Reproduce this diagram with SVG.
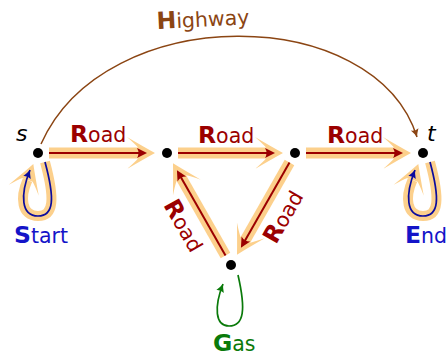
<svg xmlns="http://www.w3.org/2000/svg" width="448" height="357" viewBox="0 0 448 357">
<style>
.ob{fill:#fcd08c}
.oband{fill:none;stroke:#fcd08c;stroke-width:10}
.rl{fill:none;stroke:#9b0000;stroke-width:2}
.rh{fill:#9b0000}
.lbl{font-family:"DejaVu Sans","Liberation Sans",sans-serif;font-size:20.5px}
.ini{font-weight:bold;font-size:23.5px}
.road{fill:#9b0000}
.dot{fill:#000}
.var{font-family:"DejaVu Sans","Liberation Sans",sans-serif;font-size:22px;font-style:italic;fill:#000}
.bl{fill:none;stroke:#0b0b9e;stroke-width:1.7}
.gl{fill:none;stroke:#0a7a0a;stroke-width:1.7}
</style>
<defs>
<path id="oh" d="M-17,-5.5 Q-20,-9 -28,-16 Q-11,-6 0,0 Q-11,6 -28,16 Q-20,9 -17,5.5 Z"/>
<path id="rh" d="M0,0 Q-5,-2.5 -10,-5 Q-7,0 -10,5 Q-5,2.5 0,0 Z"/>
<marker id="mb" markerUnits="userSpaceOnUse" viewBox="-9 -5 10 10" refX="0" refY="0" markerWidth="10" markerHeight="10" orient="auto"><path d="M0,0 Q-4,-1.5 -8,-4 Q-6,0 -8,4 Q-4,1.5 0,0Z" fill="#0b0b9e"/></marker>
<marker id="mg" markerUnits="userSpaceOnUse" viewBox="-9 -5 10 10" refX="0" refY="0" markerWidth="10" markerHeight="10" orient="auto"><path d="M0,0 Q-4,-1.5 -8,-4 Q-6,0 -8,4 Q-4,1.5 0,0Z" fill="#0a7a0a"/></marker>
<marker id="mh" markerUnits="userSpaceOnUse" viewBox="-9 -5 10 10" refX="0" refY="0" markerWidth="10" markerHeight="10" orient="auto"><path d="M0,0 Q-4,-1.5 -8,-4 Q-6,0 -8,4 Q-4,1.5 0,0Z" fill="#8b4513"/></marker>
</defs>

<g id="connectors">
  <path id="highway" d="M41,144 C105,0 375,3 417,137" fill="none" stroke="#8b4513" stroke-width="1.5" marker-end="url(#mh)"/>
  <text class="lbl" fill="#8b4513" transform="translate(157,29) rotate(-3)"><tspan class="ini">H</tspan>ighway</text>

  <g id="road1" transform="translate(49,153)">
    <rect class="ob" x="0" y="-5.5" width="90" height="11"/>
    <use href="#oh" class="ob" x="106"/>
    <line class="rl" x1="0" y1="0" x2="90" y2="0"/>
    <use href="#rh" class="rh" x="98"/>
  </g>
  <g id="road2" transform="translate(178,153)">
    <rect class="ob" x="0" y="-5.5" width="89" height="11"/>
    <use href="#oh" class="ob" x="105"/>
    <line class="rl" x1="0" y1="0" x2="89" y2="0"/>
    <use href="#rh" class="rh" x="97"/>
  </g>
  <g id="road3" transform="translate(306,153)">
    <rect class="ob" x="0" y="-5.5" width="89" height="11"/>
    <use href="#oh" class="ob" x="105"/>
    <line class="rl" x1="0" y1="0" x2="89" y2="0"/>
    <use href="#rh" class="rh" x="97"/>
  </g>
  <g id="road4" transform="translate(225.5,255.4) rotate(-119.7)">
    <rect class="ob" x="0" y="-5.5" width="90" height="11"/>
    <use href="#oh" class="ob" x="106"/>
    <line class="rl" x1="0" y1="0" x2="90" y2="0"/>
    <use href="#rh" class="rh" x="98"/>
  </g>
  <g id="road5" transform="translate(289.5,162.6) rotate(119.7)">
    <rect class="ob" x="0" y="-5.5" width="90" height="11"/>
    <use href="#oh" class="ob" x="106"/>
    <line class="rl" x1="0" y1="0" x2="90" y2="0"/>
    <use href="#rh" class="rh" x="98"/>
  </g>

  <text class="lbl road" x="70" y="142"><tspan class="ini">R</tspan>oad</text>
  <text class="lbl road" x="198" y="143"><tspan class="ini">R</tspan>oad</text>
  <text class="lbl road" x="327" y="143"><tspan class="ini">R</tspan>oad</text>
  <text class="lbl road" transform="translate(163,205) rotate(60.3)"><tspan class="ini">R</tspan>oad</text>
  <text class="lbl road" transform="translate(276,245) rotate(-60.3)"><tspan class="ini">R</tspan>oad</text>

  <g id="loop-start" transform="translate(38,153)">
    <path class="oband" d="M7,9 C17,46 16,63 0,63 C-17,63 -18,44 -10.5,27"/>
    <use href="#oh" class="ob" transform="translate(-4.7,11) rotate(-70)"/>
    <path class="bl" d="M7,9 C17,46 16,63 0,63 C-17,63 -18,42 -8,17" marker-end="url(#mb)"/>
  </g>
  <g id="loop-end" transform="translate(423,153)">
    <path class="oband" d="M7,9 C17,46 16,63 0,63 C-17,63 -18,44 -10.5,27"/>
    <use href="#oh" class="ob" transform="translate(-4.7,11) rotate(-70)"/>
    <path class="bl" d="M7,9 C17,46 16,63 0,63 C-17,63 -18,42 -8,17" marker-end="url(#mb)"/>
  </g>
  <g id="loop-gas" transform="translate(231,265)">
    <path class="gl" d="M7,10 C15,45 13,61 -2,61 C-16,61 -17,42 -8,19" marker-end="url(#mg)"/>
  </g>

  <text class="lbl" fill="#1414c8" x="14" y="243"><tspan class="ini">S</tspan>tart</text>
  <text class="lbl" fill="#1414c8" x="405" y="243"><tspan class="ini">E</tspan>nd</text>
  <text class="lbl" fill="#0a7a0a" x="213" y="351"><tspan class="ini">G</tspan>as</text>
</g>

<g id="node-s"><circle class="dot" cx="38" cy="153" r="5"/><text class="var" x="16" y="141">s</text></g>
<g id="node-a"><circle class="dot" cx="167" cy="153" r="5"/></g>
<g id="node-b"><circle class="dot" cx="295" cy="153" r="5"/></g>
<g id="node-t"><circle class="dot" cx="423" cy="153" r="5"/><text class="var" x="427" y="141">t</text></g>
<g id="node-gas"><circle class="dot" cx="231" cy="265" r="5"/></g>
</svg>
